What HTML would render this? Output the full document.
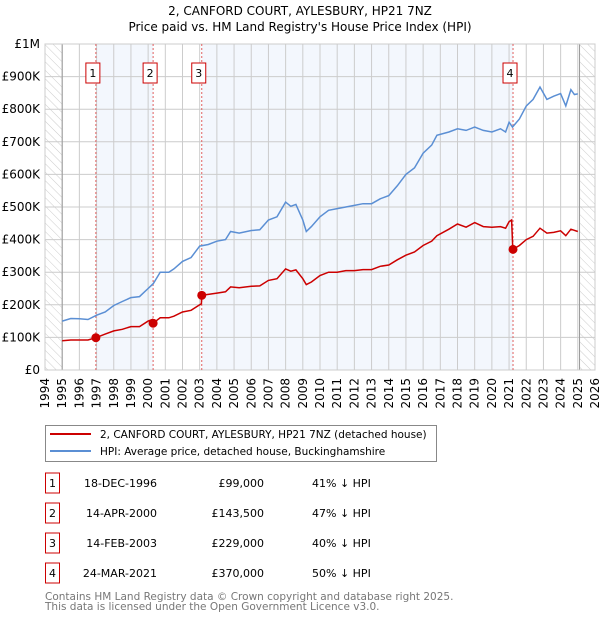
<!DOCTYPE html>
<html><head><meta charset="utf-8"><style>
body{margin:0;background:#fff;font-family:"DejaVu Sans","Liberation Sans",sans-serif;}
svg text{font-family:"DejaVu Sans","Liberation Sans",sans-serif;}
</style></head><body>
<svg id="c" width="600" height="620" xmlns="http://www.w3.org/2000/svg">
<defs><pattern id="hatch" width="6" height="6" patternUnits="userSpaceOnUse" patternTransform="rotate(-45)"><line x1="0" y1="0" x2="0" y2="6" stroke="#ccc" stroke-width="1"/></pattern></defs>
<text x="300" y="15" text-anchor="middle" font-size="12">2, CANFORD COURT, AYLESBURY, HP21 7NZ</text>
<text x="300" y="31" text-anchor="middle" font-size="12">Price paid vs. HM Land Registry's House Price Index (HPI)</text>
<g id="plot"></g>
<g>
<rect x="45.5" y="425.5" width="391" height="36" fill="#fff" stroke="#888"/>
<line x1="50" y1="434" x2="91" y2="434" stroke="#cc0000" stroke-width="2"/>
<text x="100" y="438" font-size="10.5">2, CANFORD COURT, AYLESBURY, HP21 7NZ (detached house)</text>
<line x1="50" y1="451" x2="91" y2="451" stroke="#5b8fd4" stroke-width="2"/>
<text x="100" y="455" font-size="10.5">HPI: Average price, detached house, Buckinghamshire</text>
</g>
<g id="table" font-size="11"></g>
<text x="45" y="600" font-size="10.5" fill="#777">Contains HM Land Registry data © Crown copyright and database right 2025.</text>
<text x="45" y="610" font-size="10.5" fill="#777">This data is licensed under the Open Government Licence v3.0.</text>
</svg>
<script>
const hpiYears=[1995,1995.5,1996,1996.5,1997,1997.5,1998,1998.5,1999,1999.5,2000,2000.3,2000.7,2001.2,2001.5,2002,2002.5,2003,2003.5,2004,2004.5,2004.8,2005.3,2006,2006.5,2007,2007.5,2008,2008.3,2008.6,2009,2009.2,2009.5,2010,2010.5,2011,2011.5,2012,2012.5,2013,2013.5,2014,2014.5,2015,2015.5,2016,2016.5,2016.8,2017.5,2018,2018.5,2019,2019.5,2020,2020.5,2020.8,2021,2021.2,2021.6,2022,2022.4,2022.8,2023.2,2023.6,2024,2024.3,2024.6,2024.8,2025];
const hpiValues=[150,158,157,155,168,178,198,210,222,225,250,265,300,300,310,333,345,380,385,395,400,425,420,428,430,460,470,515,502,508,460,425,440,470,490,495,500,505,510,510,525,535,565,600,620,665,690,720,730,740,735,745,735,730,740,730,760,745,770,810,830,868,830,840,848,810,860,845,847];
const propYears=[1995,1995.5,1996,1996.5,1996.96,1997.5,1998,1998.5,1999,1999.5,2000,2000.25,2000.29,2000.7,2001.2,2001.5,2002,2002.5,2003,2003.1,2003.12,2003.5,2004,2004.5,2004.8,2005.3,2006,2006.5,2007,2007.5,2008,2008.3,2008.6,2009,2009.2,2009.5,2010,2010.5,2011,2011.5,2012,2012.5,2013,2013.5,2014,2014.5,2015,2015.5,2016,2016.5,2016.8,2017.5,2018,2018.5,2019,2019.5,2020,2020.5,2020.8,2021,2021.15,2021.22,2021.6,2022,2022.4,2022.8,2023.2,2023.6,2024,2024.3,2024.6,2025];
const propValues=[90,92,92,92,99,110,120,125,133,133,150,155,143.5,160,160,165,178,183,200,203,229,232,236,240,255,252,257,258,275,280,310,303,307,280,262,270,290,300,300,305,305,308,308,318,322,338,352,362,382,395,412,432,448,438,452,440,438,440,435,455,460,370,382,400,410,435,420,422,427,412,432,425];
const saleYears=[1996.96,2000.29,2003.12,2021.23];
const saleValues=[99,143.5,229,370];
const saleLabels=["1","2","3","4"];
const saleDates=["18-DEC-1996","14-APR-2000","14-FEB-2003","24-MAR-2021"];
const salePrices=["£99,000","£143,500","£229,000","£370,000"];
const saleDiffs=["41% ↓ HPI","47% ↓ HPI","40% ↓ HPI","50% ↓ HPI"];
const yTicks=[0,100,200,300,400,500,600,700,800,900,1000];
const yTickLabels=["£0","£100K","£200K","£300K","£400K","£500K","£600K","£700K","£800K","£900K","£1M"];
const xTicks=[1994,1995,1996,1997,1998,1999,2000,2001,2002,2003,2004,2005,2006,2007,2008,2009,2010,2011,2012,2013,2014,2015,2016,2017,2018,2019,2020,2021,2022,2023,2024,2025,2026];

const L=45,R=595,T=44,B=370,X0=1994,X1=2026;
const xs=v=>L+(v-X0)/(X1-X0)*(R-L);
const ys=v=>B-v/1000*(B-T);
const NS="http://www.w3.org/2000/svg";
const plot=document.getElementById('plot');
function mk(tag,attrs,parent){const e=document.createElementNS(NS,tag);for(const k in attrs)e.setAttribute(k,attrs[k]);(parent||plot).appendChild(e);return e;}

let e=mk('rect',{x:L,y:T,width:R-L,height:B-T,fill:'#fff'});


[[0,1],[2,3]].forEach(p=>{
 const s=mk('rect',{x:xs(saleYears[p[0]]),y:T,width:xs(saleYears[p[1]])-xs(saleYears[p[0]]),height:B-T,fill:'#eef3fc',opacity:0.7});
 
 
});
e=mk('rect',{x:L,y:T,width:xs(1995)-L,height:B-T,fill:'url(#hatch)'});


e=mk('rect',{x:xs(2025.1),y:T,width:R-xs(2025.1),height:B-T,fill:'url(#hatch)'});


xTicks.forEach(t=>{
 const g=mk('line',{x1:xs(t),x2:xs(t),y1:T,y2:B,stroke:'#ccc','stroke-width':1});
 
 
 const tx=mk('text',{x:0,y:0,'font-size':12,'text-anchor':'end',transform:`translate(${xs(t)+4},${B+8}) rotate(-90)`});
 tx.textContent=t;
 
 
});
yTicks.forEach((t,i)=>{
 const g=mk('line',{x1:L,x2:R,y1:ys(t),y2:ys(t),stroke:'#ccc','stroke-width':1});
 
 
 const tx=mk('text',{x:40,y:ys(t)+4,'font-size':12,'text-anchor':'end'});
 tx.textContent=yTickLabels[i];
 
 
});
e=mk('line',{x1:xs(1995),x2:xs(1995),y1:T,y2:B,stroke:'#999'});


e=mk('line',{x1:xs(2025.1),x2:xs(2025.1),y1:T,y2:B,stroke:'#999'});


e=mk('rect',{x:L,y:T,width:R-L,height:B-T,fill:'none',stroke:'#ccc'});


saleYears.forEach((s,i)=>{
 const l=mk('line',{x1:xs(s),x2:xs(s),y1:T,y2:B,stroke:'#e06060','stroke-dasharray':'2,2'});
 
 
});
const pts=(xa,ya)=>xa.map((x,i)=>xs(x).toFixed(1)+','+ys(ya[i]).toFixed(1)).join(' ');
e=mk('polyline',{points:pts(hpiYears,hpiValues),fill:'none',stroke:'#5b8fd4','stroke-width':1.5});


e=mk('polyline',{points:pts(propYears,propValues),fill:'none',stroke:'#cc0000','stroke-width':1.5});


saleYears.forEach((s,i)=>{
 const c=mk('circle',{cx:xs(s),cy:ys(saleValues[i]),r:4.5,fill:'#cc0000'});
 
 
 const b=mk('rect',{x:xs(s)-10,y:63,width:14,height:20,fill:'#fff',stroke:'#cc0000'});
 
 
 const t=mk('text',{x:xs(s)-3,y:77,'font-size':11,'text-anchor':'middle'});
 t.textContent=saleLabels[i];
 
 
});
const tb=document.getElementById('table');
saleDates.forEach((d,i)=>{
 const cy=483+i*30;
 const b=mk('rect',{x:45.5,y:cy-10,width:14,height:20,fill:'#fff',stroke:'#cc0000'},tb);
 
 
 const n=mk('text',{x:52.5,y:cy+4,'text-anchor':'middle'},tb);n.textContent=saleLabels[i];
 
 
 const dt=mk('text',{x:157,y:cy+4,'text-anchor':'end'},tb);dt.textContent=d;
 
 
 const pr=mk('text',{x:264,y:cy+4,'text-anchor':'end'},tb);pr.textContent=salePrices[i];
 
 
 const df=mk('text',{x:312,y:cy+4},tb);df.textContent=saleDiffs[i];
 
 
});
</script>
</body></html>
